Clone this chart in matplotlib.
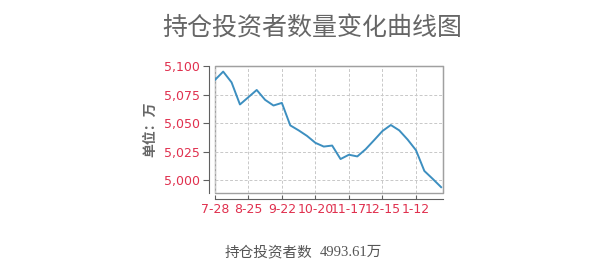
import matplotlib
matplotlib.use("Agg")
import matplotlib.pyplot as plt

plt.rcParams['font.family'] = ['Noto Sans CJK SC', 'DejaVu Sans']

# weekly holder counts (10k)
weeks = list(range(28))
holders = [5088.0, 5095.5, 5086.0, 5066.5, 5072.9, 5079.3, 5070.6, 5065.6,
           5067.9, 5048.1, 5043.7, 5038.8, 5032.7, 5029.4, 5030.3, 5018.4,
           5022.2, 5020.7, 5027.1, 5035.0, 5043.1, 5048.4, 5043.7, 5035.6,
           5026.2, 5007.9, 5000.9, 4993.61]
tick_weeks = [0, 4, 8, 12, 16, 20, 24]
tick_labels = ["7-28", "8-25", "9-22", "10-20", "11-17", "12-15", "1-12"]
y_ticks = [5000, 5025, 5050, 5075, 5100]

red = "#e0304e"
fig = plt.figure(figsize=(6, 2.68), dpi=100)
ax = fig.add_axes([0.358, 0.280, 0.380, 0.474])

ax.plot(weeks, holders, color="#3d8fc0", lw=1.4)
ax.set_xlim(0, 27.2)
ax.set_ylim(4988.5, 5100.5)
ax.set_xticks(tick_weeks)
ax.set_xticklabels(tick_labels)
ax.set_yticks(y_ticks)
ax.set_yticklabels([f"{v:,}" for v in y_ticks])
ax.grid(True, color="#c8c8c8", ls=(0, (3, 2)), lw=0.7)

# light box around plot area
ax.patch.set_edgecolor("#a0a0a0")
ax.patch.set_linewidth(1.0)
for s in ["top", "right"]:
    ax.spines[s].set_color("#a0a0a0")
for s in ["left", "bottom"]:
    ax.spines[s].set_position(("outward", 4.5))
    ax.spines[s].set_color("#606060")
ax.tick_params(axis="y", colors="#606060", labelcolor=red, labelsize=9,
               length=4, direction="out", pad=2)
ax.tick_params(axis="x", colors="#606060", labelcolor=red, labelsize=9,
               length=3, direction="in", pad=3)
for lab in ax.get_xticklabels() + ax.get_yticklabels():
    lab.set_family(["DejaVu Sans"])

ax.set_ylabel("单位：万", color="#666666", fontsize=10, fontweight="bold",
              labelpad=5)

fig.text(0.52, 0.895, "持仓投资者数量变化曲线图", ha="center", va="center",
         fontsize=18, color="#666666")
fig.text(0.375, 0.058, "持仓投资者数", ha="left", va="center",
         fontsize=10.5, color="#555555")
fig.text(0.533, 0.058, "4993.61万", ha="left", va="center",
         fontsize=10.5, color="#555555", family=["Liberation Serif", "Noto Sans CJK SC"])

fig.savefig("out.png", dpi=100)
